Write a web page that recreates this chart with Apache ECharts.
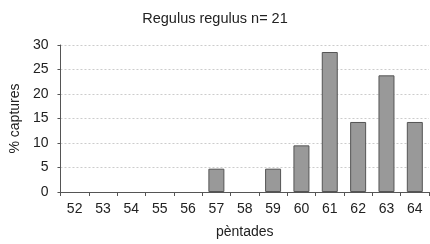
<!DOCTYPE html>
<html>
<head>
<meta charset="utf-8">
<script src="https://cdn.jsdelivr.net/npm/echarts@6/dist/echarts.min.js"></script>
<style>
  html, body { margin: 0; padding: 0; background: #fff; }
  #chart { width: 430px; height: 244px; }
</style>
</head>
<body>
<div id="chart"></div>
<script>
// pentades and % of captures (n = 21)
const pentades = ['52', '53', '54', '55', '56', '57', '58', '59', '60', '61', '62', '63', '64'];
const captures = [0, 0, 0, 0, 0, 4.76, 0, 4.76, 9.52, 28.57, 14.29, 23.81, 14.29];
const yTicks = [0, 5, 10, 15, 20, 25, 30];

const font = 'Arial, "Liberation Sans", sans-serif';

let chart = echarts.init(document.getElementById('chart'));
chart.setOption({
  animation: false,
  title: {
    text: 'Regulus regulus n= 21',
    left: 'center',
    top: 6,
    textStyle: { fontFamily: font, fontSize: 14.5, fontWeight: 'normal', color: '#222' },
  },
  grid: { left: 59, right: 1, top: 45, bottom: 52 },
  xAxis: {
    type: 'category',
    data: pentades,
    name: 'pèntades',
    nameLocation: 'middle',
    nameGap: 33,
    nameTextStyle: { fontFamily: font, fontSize: 14, color: '#222' },
    axisLine: { lineStyle: { color: '#555' } },
    axisTick: { show: true, alignWithLabel: false, length: 4, lineStyle: { color: '#555' } },
    axisLabel: { fontFamily: font, fontSize: 14, color: '#222', margin: 10 },
  },
  yAxis: {
    type: 'value',
    min: yTicks[0],
    max: yTicks[yTicks.length - 1],
    interval: 5,
    name: '% captures',
    nameLocation: 'middle',
    nameGap: 31,
    nameTextStyle: { fontFamily: font, fontSize: 14, color: '#222' },
    axisLine: { show: true, lineStyle: { color: '#555' } },
    axisTick: { show: true, length: 3, lineStyle: { color: '#555' } },
    axisLabel: { fontFamily: font, fontSize: 14, color: '#222', margin: 12 },
    splitLine: { lineStyle: { color: '#ccc', type: [2, 2] } },
  },
  series: [{
    type: 'bar',
    // empty pentades get no bar at all
    data: captures.map(v => v === 0 ? '-' : v),
    barWidth: 16,
    itemStyle: { color: '#999', borderColor: '#555', borderWidth: 1 },
  }],
});
</script>
</body>
</html>
